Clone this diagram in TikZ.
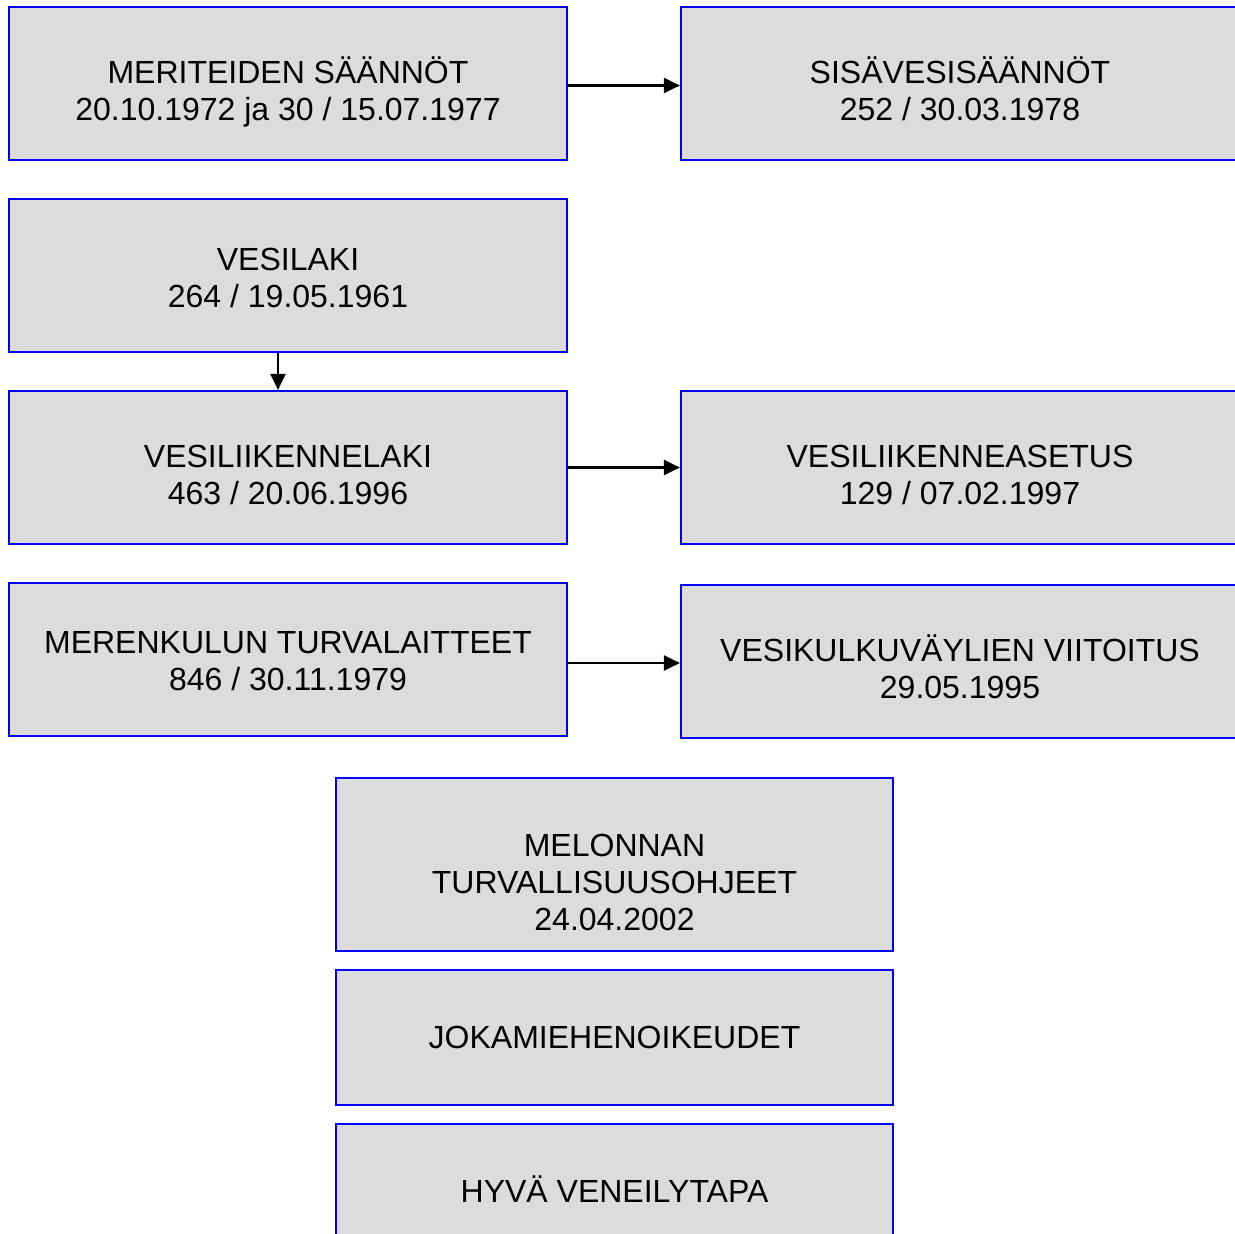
\documentclass[tikz,border=0pt]{standalone}
\usepackage{fontspec}
\setmainfont{Liberation Sans}
\usetikzlibrary{arrows.meta}
\definecolor{boxgray}{HTML}{DCDCDC}
\definecolor{boxblue}{HTML}{0000FF}
\newcommand{\ls}{\rule[-7.2pt]{0pt}{37pt}}
\begin{document}
\begin{tikzpicture}[x=1pt,y=-1pt,
  box/.style={draw=boxblue,fill=boxgray,line width=2.2pt,inner sep=0pt,minimum width=558pt,minimum height=153pt},
  lbl/.style={font=\fontsize{32}{37}\selectfont,align=center,inner sep=0pt},
  arr/.style={line width=2.2pt,-{Triangle[length=16pt,width=15pt]}}]
\useasboundingbox (0,0) rectangle (1235,1234);
% boxes
\node[box] (b1) at (288,83.5) {};
\node[box] (b2) at (960,83.5) {};
\node[box] (b3) at (288,275.5) {};
\node[box] (b4) at (288,467.5) {};
\node[box] (b5) at (960,467.5) {};
\node[box] (b6) at (288,659.5) {};
\node[box] (b7) at (960,661.5) {};
\node[box,minimum width=557pt,minimum height=173pt] (b8) at (614.5,864.5) {};
\node[box,minimum width=557pt,minimum height=135pt] (b9) at (614.5,1037.5) {};
\node[box,minimum width=557pt,minimum height=135pt] (b10) at (614.5,1191.5) {};
% texts
\node[lbl] (t1) at (288,91) {\ls MERITEIDEN SÄÄNNÖT\\20.10.1972 ja 30 / 15.07.1977\ls};
\node[lbl] (t2) at (960,91) {\ls SISÄVESISÄÄNNÖT\\252 / 30.03.1978\ls};
\node[lbl] (t3) at (288,277.5) {\ls VESILAKI\\264 / 19.05.1961\ls};
\node[lbl] (t4) at (288,474.5) {\ls VESILIIKENNELAKI\\463 / 20.06.1996\ls};
\node[lbl] (t5) at (960,474.5) {\ls VESILIIKENNEASETUS\\129 / 07.02.1997\ls};
\node[lbl] (t6) at (288,661) {\ls MERENKULUN TURVALAITTEET\\846 / 30.11.1979\ls};
\node[lbl] (t7) at (960,668.5) {\ls VESIKULKUVÄYLIEN VIITOITUS\\29.05.1995\ls};
\node[lbl] (t8) at (614.5,882) {\ls MELONNAN\\TURVALLISUUSOHJEET\\24.04.2002\ls};
\node[lbl] (t9) at (614.5,1037) {\ls JOKAMIEHENOIKEUDET};
\node[lbl] (t10) at (614.5,1191) {\ls HYVÄ VENEILYTAPA};
% connectors
\draw[arr] ([yshift=-2pt]b1.east) -- ([yshift=-2pt]b2.west);
\draw[arr] ([xshift=-10pt]b3.south) -- ([xshift=-10pt]b4.north);
\draw[arr] (b4.east) -- (b5.west);
\draw[arr] ([yshift=-3.5pt]b6.east) -- ([yshift=-3.5pt]b6.east -| b7.west);
\end{tikzpicture}
\end{document}
